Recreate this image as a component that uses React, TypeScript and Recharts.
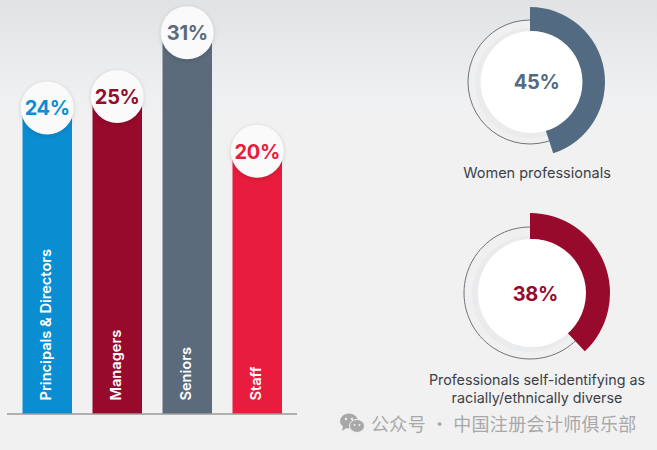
import { Bar, BarChart, Cell, LabelList, Pie, PieChart, XAxis, YAxis } from "recharts";

const categories = ["Principals & Directors", "Managers", "Seniors", "Staff"];
const printedValues = ["24%", "25%", "31%", "20%"];
// bar lengths as drawn in the picture, they are not quite proportional to the printed numbers
const drawnHeights = [24, 24.9, 29.9, 20.6];
const barColors = ["#0b8dd2", "#970a2c", "#5b6b7c", "#e81c3c"];

const womenShare = [45, 55];
const diverseShare = [38, 62];

const rows = categories.map((name, i) => ({ name, height: drawnHeights[i], printed: printedValues[i] }));
const font = "Inter, 'Open Sans', sans-serif";

function BarBadge(props: any) {
  const { x, y, width, index } = props;
  const cx = x + width / 2;
  return (
    <g>
      <circle cx={cx} cy={y} r={26.5} fill="#fafafb" style={{ filter: "drop-shadow(0 1px 2px rgba(0,0,0,0.15))" }} />
      <text x={cx} y={y + 7.5} textAnchor="middle" fontSize={20} fontWeight={700} letterSpacing={-0.3} fill={barColors[index]} fontFamily={font}>
        {printedValues[index]}
      </text>
    </g>
  );
}

function BarName(props: any) {
  const { x, width, index } = props;
  const bx = x + width / 2 + 3.5;
  return (
    <text x={bx} y={400.5} transform={`rotate(-90 ${bx} 400.5)`} fontSize={14.6} fontWeight={600} fill="#ffffff" fontFamily={font}>
      {categories[index]}
    </text>
  );
}

function Donut({ left, top, share, color, outer, inner, ring, discShift, label, labelX, labelY }: any) {
  const size = outer * 2 + 10;
  const c = size / 2;
  return (
    <>
      <div style={{ position: "absolute", left, top }}>
        <PieChart width={size} height={size} margin={{ top: 0, right: 0, bottom: 0, left: 0 }}>
          <Pie data={[{ v: 100 }]} dataKey="v" cx={c} cy={c} innerRadius={0} outerRadius={ring} fill="#f0f0f1" stroke="#6f7378" strokeWidth={1} isAnimationActive={false} />
          <Pie data={[{ v: 100 }]} dataKey="v" cx={c} cy={c + 1} innerRadius={0} outerRadius={inner + 4} fill="#eaebec" stroke="none" isAnimationActive={false} />
          <Pie data={share.map((v: number) => ({ v }))} dataKey="v" cx={c} cy={c} innerRadius={inner} outerRadius={outer} startAngle={90} endAngle={-270} stroke="none" isAnimationActive={false}>
            <Cell fill={color} />
            <Cell fill="none" />
          </Pie>
          <Pie data={[{ v: 100 }]} dataKey="v" cx={c + discShift} cy={c} innerRadius={0} outerRadius={inner} fill="#ffffff" stroke="none" isAnimationActive={false} />
        </PieChart>
      </div>
      <div style={{ position: "absolute", left: labelX - 50, width: 100, top: labelY - 15, height: 30, lineHeight: "30px", textAlign: "center", fontSize: 20, fontWeight: 700, letterSpacing: -0.3, color, fontFamily: font }}>
        {label}
      </div>
    </>
  );
}

export default function App() {
  return (
    <div style={{ position: "absolute", left: 0, top: 0, width: 657, height: 450, overflow: "hidden", background: "linear-gradient(#e1e2e4 0px, #eff0f1 95px, #f1f1f2 130px)" }}>
      <div style={{ position: "absolute", left: 0, top: 0 }}>
        <BarChart width={300} height={430} data={rows} margin={{ top: 0, right: 3, bottom: 0, left: 7 }} barSize={49.5}>
          <XAxis dataKey="name" tick={false} tickLine={false} height={16} axisLine={{ stroke: "#9a9a9a", strokeWidth: 1.5 }} padding={{ left: 5.5, right: 4.5 }} />
          <YAxis hide domain={[0, 32.47]} />
          <Bar dataKey="height" isAnimationActive={false}>
            {rows.map((r, i) => (
              <Cell key={r.name} fill={barColors[i]} />
            ))}
            <LabelList dataKey="name" content={<BarName />} />
            <LabelList dataKey="printed" content={<BarBadge />} />
          </Bar>
        </BarChart>
      </div>

      <Donut left={450} top={2} share={womenShare} color="#536b82" outer={75} inner={51} ring={62} discShift={1.5} label="45%" labelX={536.7} labelY={82} />
      <Donut left={445} top={208} share={diverseShare} color="#970a2c" outer={80} inner={54} ring={66} discShift={2} label="38%" labelX={535.3} labelY={294} />

      <div style={{ position: "absolute", left: 400, width: 274, top: 164, textAlign: "center", fontSize: 14.5, lineHeight: "18px", color: "#3b3f46", fontFamily: font }}>
        Women professionals
      </div>
      <div style={{ position: "absolute", left: 400, width: 274, top: 371, textAlign: "center", fontSize: 14.3, lineHeight: "18px", color: "#3b3f46", fontFamily: font }}>
        Professionals self-identifying as
        <br />
        racially/ethnically diverse
      </div>

      <svg style={{ position: "absolute", left: 338, top: 412 }} width={30} height={24}>
        <ellipse cx={11} cy={9} rx={9} ry={7.5} fill="#a8a8a8" />
        <path d="M5 14 L4 19 L10 15 Z" fill="#a8a8a8" />
        <ellipse cx={19} cy={14} rx={7.5} ry={6.5} fill="#a8a8a8" stroke="#f1f1f2" strokeWidth={1} />
        <circle cx={8} cy={7} r={1.2} fill="#f1f1f2" />
        <circle cx={14} cy={7} r={1.2} fill="#f1f1f2" />
        <circle cx={16.5} cy={13} r={1} fill="#f1f1f2" />
        <circle cx={21.5} cy={13} r={1} fill="#f1f1f2" />
      </svg>
      <div style={{ position: "absolute", left: 371, top: 412, fontSize: 18, letterSpacing: 0.35, lineHeight: "22px", color: "#a8a8a8", fontFamily: "'Noto Sans CJK SC', sans-serif", whiteSpace: "nowrap" }}>
        公众号 · 中国注册会计师俱乐部
      </div>
    </div>
  );
}
